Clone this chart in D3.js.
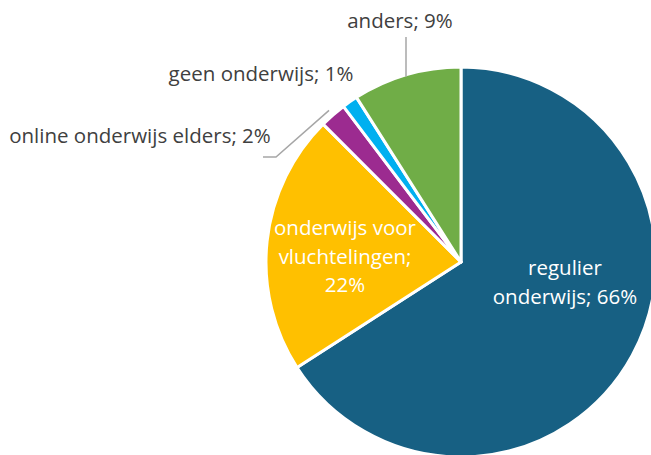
<!DOCTYPE html>
<html>
<head>
<meta charset="utf-8">
<script src="https://cdn.jsdelivr.net/npm/d3@7"></script>
<style>
  html, body { margin: 0; padding: 0; background: #fff; }
  svg { display: block; font-family: "Open Sans", sans-serif; }
</style>
</head>
<body>
<div id="chart"></div>
<script>
// slice data, clockwise from 12 o'clock
const categories = ["regulier onderwijs", "onderwijs voor vluchtelingen", "online onderwijs elders", "geen onderwijs", "anders"];
const values = [65.9, 21.6, 2.2, 1.3, 9.0];
const labels = ["66%", "22%", "2%", "1%", "9%"];
const colors = ["#176083", "#FFC000", "#9C2B90", "#00B0F0", "#70AD47"];

const width = 651, height = 455;
const cx = 461, cy = 262, radius = 195;

const svg = d3.select("#chart").append("svg")
  .attr("width", width)
  .attr("height", height)
  .attr("viewBox", [0, 0, width, height]);

const pie = d3.pie().sort(null).value(d => d)(values);
const arc = d3.arc().innerRadius(0).outerRadius(radius);

const g = svg.append("g").attr("transform", `translate(${cx},${cy})`);

g.selectAll("path")
  .data(pie)
  .enter()
  .append("path")
    .attr("d", arc)
    .attr("fill", (d, i) => colors[i])
    .attr("stroke", "#fff")
    .attr("stroke-width", 3)
    .attr("stroke-linejoin", "round");

const fontSize = 20.5;

// labels inside the two big slices
const inside = [
  {i: 0, lines: ["regulier", "onderwijs; " + labels[0]], x: 565, y: 275},
  {i: 1, lines: ["onderwijs voor", "vluchtelingen;", labels[1]], x: 345, y: 235}
];
inside.forEach(lb => {
  const t = svg.append("text")
    .attr("text-anchor", "middle")
    .attr("font-size", fontSize)
    .attr("fill", "#fff");
  lb.lines.forEach((s, k) => {
    t.append("tspan").attr("x", lb.x).attr("y", lb.y + k * 28.5).text(s);
  });
});

// outside labels with leader lines
const outside = [
  {i: 4, text: categories[4].split(" ")[0] + "; " + labels[4], x: 400, y: 28, anchor: "middle"},
  {i: 3, text: categories[3] + "; " + labels[3], x: 261, y: 81, anchor: "middle"},
  {i: 2, text: categories[2] + "; " + labels[2], x: 140, y: 143, anchor: "middle"}
];
outside.forEach(lb => {
  svg.append("text")
    .attr("text-anchor", lb.anchor)
    .attr("x", lb.x)
    .attr("y", lb.y)
    .attr("font-size", fontSize)
    .attr("fill", "#404040")
    .text(lb.text);
});

// leader lines, pointing at the slice edge
const leader = d3.line();
function edge(i, r) {
  const a = (pie[i].startAngle + pie[i].endAngle) / 2;
  return [cx + Math.sin(a) * r, cy - Math.cos(a) * r];
}
const greenTip = edge(4, radius - 2);
svg.append("path")
  .attr("d", leader([[406, 37], [406, greenTip[1]]]))
  .attr("fill", "none").attr("stroke", "#a6a6a6").attr("stroke-width", 1.5);
const purpleTip = edge(2, radius + 6);
svg.append("path")
  .attr("d", leader([[263, 157], [276, 157], purpleTip]))
  .attr("fill", "none").attr("stroke", "#a6a6a6").attr("stroke-width", 1.5);
</script>
</body>
</html>
